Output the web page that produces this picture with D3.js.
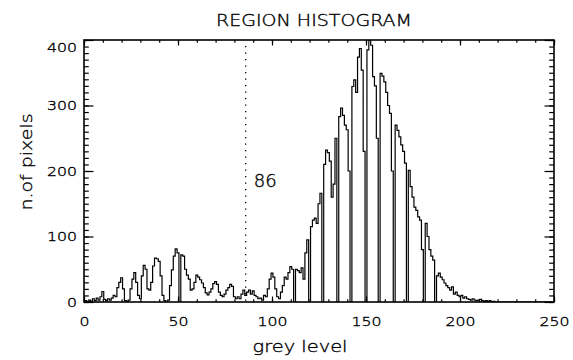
<!DOCTYPE html>
<html><head><meta charset="utf-8">
<script src="https://cdn.jsdelivr.net/npm/d3@7"></script>
<style>
body{margin:0;background:#fff;}
text{font-family:"DejaVu Sans","Liberation Sans",Arial,sans-serif;font-weight:200;fill:#000;stroke:#000;stroke-width:0.35px;}
</style></head>
<body><svg id="c" width="573" height="360"></svg>
<script>
// ---- data ----
const title = "REGION  HISTOGRAM";
const xLabel = "grey level";
const yLabel = "n.of pixels";
const xTicks = [0, 50, 100, 150, 200, 250];
const yTicks = [0, 100, 200, 300, 400];
const threshold = 86;
// pixel counts per grey level 0..255
const counts = [
  0,2,0,3,1,5,2,6,3,8, 16,4,2,5,3,6,10,8,22,30,
  37,20,2,1,3,20,35,45,30,10, 5,40,56,50,20,18,30,55,67,66,
  62,40,10,2,0,3,25,49,70,81, 75,0,72,70,50,41,35,18,20,30,
  41,38,34,29,22,14,11,15,20,28, 31,27,15,10,8,12,18,22,27,24,
  8,5,8,5,12,18,10,15,18,12, 17,10,8,5,6,3,10,8,20,35,
  44,38,20,8,5,15,25,38,35,45, 54,50,0,50,48,45,52,35,75,95,
  0,115,125,128,120,150,166,0,210,232, 228,215,160,180,250,0,283,296,285,270,
  263,200,0,329,339,320,374,387,354,230, 0,385,400,392,344,330,250,0,349,345,
  336,320,300,288,200,0,270,262,252,240, 230,212,0,201,176,160,145,140,130,125,
  80,0,120,100,80,70,64,0,40,44, 38,34,29,25,22,18,23,12,15,10,
  8,10,6,8,5,4,3,5,3,2, 3,4,2,1,2,1,2,0,1,0,
  0,0,0,0,0,0,0,0,0,0, 0,0,0,0,0,0,0,0,0,0,
  0,0,0,0,0,0,0,0,0,0, 0,0,0,0,0,0
];

// ---- chart ----
const svg = d3.select("#c");
const L = 84, R = 554, T = 40, B = 302;
const x = d3.scaleLinear().domain([0, 250]).range([L, R]);
const y = d3.scaleLinear().domain([0, 400]).range([B, T]);

const defs = svg.append("defs");
defs.append("clipPath").attr("id","clip").append("rect")
  .attr("x", L).attr("y", T).attr("width", R-L).attr("height", B-T);

const data = counts.map((v,i)=>({g:i, v:v})).filter(d=>d.g<=250);
const line = d3.line().x(d=>x(d.g)).y(d=>y(d.v)).curve(d3.curveStep);
svg.append("path").datum(data).attr("clip-path","url(#clip)")
  .attr("d", line).attr("fill","none").attr("stroke","#000").attr("stroke-width",1.2);

// threshold dotted line
svg.append("line").attr("x1", x(threshold)).attr("x2", x(threshold))
  .attr("y1", T+6).attr("y2", B).attr("stroke","#000").attr("stroke-width",1.3)
  .attr("stroke-dasharray","1.3,5.2");
svg.append("text").attr("x", x(threshold)+8).attr("y", 187)
  .attr("font-size", 17).attr("textLength", 23).attr("lengthAdjust","spacingAndGlyphs")
  .text(String(threshold));

// axes
const minorX = d3.range(0, 251, 10);
const minorY = d3.range(0, 401, 10);
function styleAxis(g){ g.select(".domain").remove(); g.selectAll("line").attr("stroke","#000").attr("stroke-width",1.2); }

// bottom
const gb = svg.append("g").attr("transform",`translate(0,${B})`)
  .call(d3.axisBottom(x).tickValues(xTicks).tickSize(-5.5).tickPadding(24).tickFormat(d3.format("d")));
styleAxis(gb);
gb.selectAll("text").attr("font-size",12.5).attr("dy","0")
  .attr("textLength", d=>String(d).length*10).attr("lengthAdjust","spacingAndGlyphs");
const gbm = svg.append("g").attr("transform",`translate(0,${B})`)
  .call(d3.axisBottom(x).tickValues(minorX).tickSize(-2.8).tickFormat(""));
styleAxis(gbm);
// top
const gt = svg.append("g").attr("transform",`translate(0,${T})`)
  .call(d3.axisTop(x).tickValues(xTicks).tickSize(-5.5).tickFormat(""));
styleAxis(gt);
const gtm = svg.append("g").attr("transform",`translate(0,${T})`)
  .call(d3.axisTop(x).tickValues(minorX).tickSize(-2.8).tickFormat(""));
styleAxis(gtm);
// left
const gl = svg.append("g").attr("transform",`translate(${L},0)`)
  .call(d3.axisLeft(y).tickValues(yTicks).tickSize(-9.5).tickPadding(7).tickFormat(d3.format("d")));
styleAxis(gl);
gl.selectAll("text").attr("font-size",12.5)
  .attr("dy", d => d === 400 ? "0.9em" : "0.32em")
  .attr("textLength", d=>String(d).length*10).attr("lengthAdjust","spacingAndGlyphs");
const glm = svg.append("g").attr("transform",`translate(${L},0)`)
  .call(d3.axisLeft(y).tickValues(minorY).tickSize(-4.8).tickFormat(""));
styleAxis(glm);
// right
const gr = svg.append("g").attr("transform",`translate(${R},0)`)
  .call(d3.axisRight(y).tickValues(yTicks).tickSize(-9.5).tickFormat(""));
styleAxis(gr);
const grm = svg.append("g").attr("transform",`translate(${R},0)`)
  .call(d3.axisRight(y).tickValues(minorY).tickSize(-4.8).tickFormat(""));
styleAxis(grm);

// frame
svg.append("rect").attr("x",L).attr("y",T).attr("width",R-L).attr("height",B-T)
  .attr("fill","none").attr("stroke","#000").attr("stroke-width",1.6);

// titles
svg.append("text").attr("x", 314).attr("y", 26).attr("text-anchor","middle")
  .attr("font-size", 15).attr("textLength", 196).attr("lengthAdjust","spacingAndGlyphs").text(title);
svg.append("text").attr("x", 300).attr("y", 352).attr("text-anchor","middle")
  .attr("font-size", 16).attr("textLength", 95).attr("lengthAdjust","spacingAndGlyphs").text(xLabel);
svg.append("text").attr("transform","translate(32,162) rotate(-90)").attr("text-anchor","middle")
  .attr("font-size", 16).attr("textLength", 97).attr("lengthAdjust","spacingAndGlyphs").text(yLabel);
</script></body></html>
